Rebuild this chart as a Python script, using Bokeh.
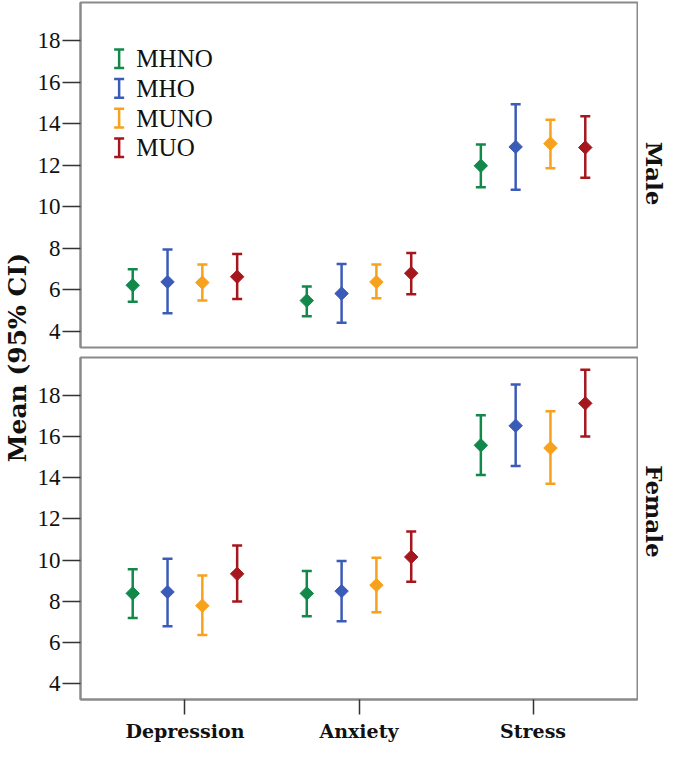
import math
from bokeh.plotting import figure
from bokeh.models import (ColumnDataSource, FactorRange, Range1d, FixedTicker,
                          Whisker, TeeHead, Label)
from bokeh.transform import dodge
from bokeh.layouts import row, column
from bokeh.embed import file_html
from bokeh.resources import INLINE

# ---------------- data ----------------
scales = ["Depression", "Anxiety", "Stress"]
groups = ["MHNO", "MHO", "MUNO", "MUO"]
colors = ["#12894a", "#3b5bb8", "#f8a11c", "#a5171d"]
y_ticks = [4, 6, 8, 10, 12, 14, 16, 18]

# Male: means and 95% CI bounds (Depression, Anxiety, Stress)
male_mean_MHNO = [6.22, 5.48, 11.98]
male_low_MHNO = [5.43, 4.73, 10.95]
male_up_MHNO = [6.99, 6.16, 13.01]
male_mean_MHO = [6.38, 5.82, 12.89]
male_low_MHO = [4.87, 4.41, 10.82]
male_up_MHO = [7.94, 7.25, 14.95]
male_mean_MUNO = [6.35, 6.38, 13.05]
male_low_MUNO = [5.48, 5.59, 11.86]
male_up_MUNO = [7.22, 7.22, 14.20]
male_mean_MUO = [6.63, 6.80, 12.86]
male_low_MUO = [5.56, 5.79, 11.40]
male_up_MUO = [7.73, 7.78, 14.37]

# Female
female_mean_MHNO = [8.38, 8.38, 15.58]
female_low_MHNO = [7.18, 7.27, 14.14]
female_up_MHNO = [9.55, 9.47, 17.04]
female_mean_MHO = [8.45, 8.49, 16.53]
female_low_MHO = [6.78, 7.02, 14.58]
female_up_MHO = [10.07, 9.96, 18.54]
female_mean_MUNO = [7.78, 8.78, 15.45]
female_low_MUNO = [6.36, 7.46, 13.71]
female_up_MUNO = [9.25, 10.11, 17.24]
female_mean_MUO = [9.33, 10.15, 17.62]
female_low_MUO = [7.99, 8.94, 16.01]
female_up_MUO = [10.71, 11.39, 19.25]

male = {
    "MHNO": (male_mean_MHNO, male_low_MHNO, male_up_MHNO),
    "MHO": (male_mean_MHO, male_low_MHO, male_up_MHO),
    "MUNO": (male_mean_MUNO, male_low_MUNO, male_up_MUNO),
    "MUO": (male_mean_MUO, male_low_MUO, male_up_MUO),
}
female = {
    "MHNO": (female_mean_MHNO, female_low_MHNO, female_up_MHNO),
    "MHO": (female_mean_MHO, female_low_MHO, female_up_MHO),
    "MUNO": (female_mean_MUNO, female_low_MUNO, female_up_MUNO),
    "MUO": (female_mean_MUO, female_low_MUO, female_up_MUO),
}

# ---------------- styling ----------------
Y0, Y1 = 3.22, 19.85
offsets = [-0.3, -0.1, 0.1, 0.3]
FRAME_COLOR = "#8a8a8a"
FIG_W = 604
LEFT = 46
RIGHT_W = 31
X_PAD = 0.1

x_range = FactorRange(factors=scales, range_padding=X_PAD,
                      range_padding_units="absolute")


def side_label(text, height, top, bottom):
    f = figure(width=RIGHT_W, height=height, x_range=Range1d(0, 1),
               y_range=Range1d(0, 1), toolbar_location=None,
               output_backend="svg", x_axis_location=None,
               y_axis_location=None, min_border=0, outline_line_color=None)
    f.grid.visible = False
    frame_mid = top + (height - top - bottom) / 2
    f.add_layout(Label(x=0.5, y=1 - frame_mid / height, text=text,
                       angle=-math.pi / 2, text_align="center",
                       text_baseline="middle", text_font="DejaVu Serif",
                       text_font_style="bold", text_font_size="23px",
                       text_color="#111111"))
    return f


def make_panel(name, data, height, top, bottom, show_x, legend):
    p = figure(width=FIG_W, height=height, x_range=x_range,
               y_range=Range1d(Y0, Y1), toolbar_location=None,
               output_backend="svg",
               x_axis_location="below" if show_x else None,
               min_border_left=LEFT, min_border_right=1,
               min_border_top=top, min_border_bottom=bottom,
               background_fill_color="white", border_fill_color="white")
    p.grid.visible = False
    p.outline_line_color = FRAME_COLOR
    p.outline_line_width = 2

    ya = p.yaxis[0]
    ya.ticker = FixedTicker(ticks=y_ticks)
    ya.major_tick_out = 18
    ya.major_tick_in = 0
    ya.minor_tick_out = 0
    ya.minor_tick_in = 0
    ya.major_tick_line_color = "#333333"
    ya.major_tick_line_width = 1.5
    ya.axis_line_color = FRAME_COLOR
    ya.axis_line_width = 2
    ya.major_label_standoff = 2
    ya.major_label_text_font = "Liberation Serif"
    ya.major_label_text_font_size = "23px"
    ya.major_label_text_color = "#111111"

    if show_x:
        xa = p.xaxis[0]
        xa.major_tick_out = 15
        xa.major_tick_in = 0
        xa.major_tick_line_color = "#333333"
        xa.major_tick_line_width = 1.5
        xa.axis_line_color = FRAME_COLOR
        xa.axis_line_width = 2
        xa.major_label_standoff = 5
        xa.major_label_text_font = "DejaVu Serif"
        xa.major_label_text_font_style = "bold"
        xa.major_label_text_font_size = "19px"
        xa.major_label_text_color = "#111111"

    for g, c, off in zip(groups, colors, offsets):
        mean, low, up = data[g]
        src = ColumnDataSource(dict(scale=scales, mean=mean, low=low, up=up))
        xs = dodge("scale", off, range=x_range)
        w = Whisker(source=src, base=xs, lower="low", upper="up",
                    dimension="height", line_color=c, line_width=2.5,
                    lower_head=TeeHead(size=10, line_color=c, line_width=2.5),
                    upper_head=TeeHead(size=10, line_color=c, line_width=2.5))
        p.add_layout(w)
        p.scatter(x=xs, y="mean", source=src, marker="square",
                  angle=math.pi / 4, size=9.5, fill_color=c, line_color=c,
                  line_width=1)

    if legend:
        lx_icon, lx_text = 0.122, 0.221
        ly0, lstep = 17.14, 1.43
        for i, (g, c) in enumerate(zip(groups, colors)):
            ly = ly0 - i * lstep
            p.add_layout(Whisker(base=lx_icon, lower=ly - 0.45, upper=ly + 0.45,
                                 dimension="height", line_color=c, line_width=2.5,
                                 lower_head=TeeHead(size=10, line_color=c, line_width=2.5),
                                 upper_head=TeeHead(size=10, line_color=c, line_width=2.5)))
            p.add_layout(Label(x=lx_text, y=ly, text=g, text_baseline="middle",
                               text_font="Liberation Serif", text_font_size="25px",
                               text_color="#111111"))
    return row(p, side_label(name, height, top, bottom))


top = make_panel("Male", male, 352, 2, 5, False, True)
bottom = make_panel("Female", female, 392, 5, 44, True, False)

lab = figure(width=34, height=744, x_range=Range1d(0, 1), y_range=Range1d(0, 1),
             toolbar_location=None, output_backend="svg",
             x_axis_location=None, y_axis_location=None, min_border=0,
             outline_line_color=None)
lab.grid.visible = False
lab.add_layout(Label(x=0.5, y=0.52, text="Mean (95% CI)",
                     angle=math.pi / 2, text_align="center",
                     text_baseline="middle", text_font="DejaVu Serif",
                     text_font_style="bold", text_font_size="25px",
                     text_color="#111111"))

layout = row(lab, column(top, bottom))

open("out.html", "w").write(file_html(layout, INLINE))
